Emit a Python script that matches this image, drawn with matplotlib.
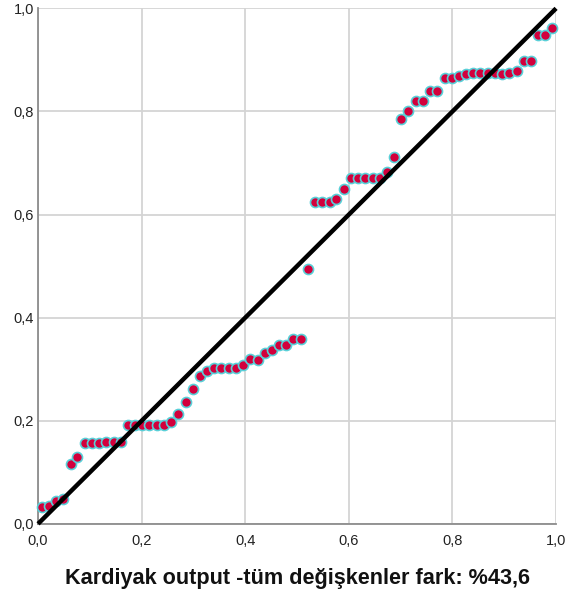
import matplotlib
matplotlib.use('Agg')
import matplotlib.pyplot as plt
import matplotlib.ticker as mticker

plt.rcParams['font.family'] = ['Liberation Sans', 'DejaVu Sans']

observed = [0.007, 0.021, 0.035, 0.049, 0.063, 0.076, 0.090, 0.104, 0.118, 0.132,
            0.146, 0.160, 0.174, 0.188, 0.201, 0.215, 0.229, 0.243, 0.257, 0.271,
            0.285, 0.299, 0.313, 0.326, 0.340, 0.354, 0.368, 0.382, 0.396, 0.410,
            0.424, 0.438, 0.451, 0.465, 0.479, 0.493, 0.507, 0.521, 0.535, 0.549,
            0.563, 0.576, 0.590, 0.604, 0.618, 0.632, 0.646, 0.660, 0.674, 0.688,
            0.701, 0.715, 0.729, 0.743, 0.757, 0.771, 0.785, 0.799, 0.813, 0.826,
            0.840, 0.854, 0.868, 0.882, 0.896, 0.910, 0.924, 0.938, 0.951, 0.965,
            0.979, 0.993]
expected = [0.032, 0.034, 0.045, 0.048, 0.116, 0.130, 0.156, 0.156, 0.156, 0.159,
            0.159, 0.159, 0.192, 0.192, 0.192, 0.192, 0.192, 0.192, 0.198, 0.214,
            0.237, 0.261, 0.287, 0.297, 0.303, 0.303, 0.303, 0.302, 0.309, 0.319,
            0.318, 0.331, 0.337, 0.347, 0.346, 0.359, 0.359, 0.494, 0.625, 0.625,
            0.625, 0.631, 0.649, 0.670, 0.670, 0.670, 0.670, 0.670, 0.682, 0.712,
            0.786, 0.801, 0.821, 0.821, 0.839, 0.839, 0.865, 0.865, 0.869, 0.872,
            0.875, 0.875, 0.875, 0.874, 0.873, 0.874, 0.878, 0.897, 0.897, 0.949,
            0.949, 0.962]
ref_line = [0.0, 1.0]
ticks = [0.0, 0.2, 0.4, 0.6, 0.8, 1.0]
title = 'Kardiyak output -tüm değişkenler fark: %43,6'

fig = plt.figure(figsize=(5.68, 5.98), dpi=100)
ax = fig.add_axes([0.067, 0.124, 0.912, 0.862])

ax.scatter(observed, expected, s=52, color='#D2003C', edgecolors='#58D0D8',
           linewidths=1.2, zorder=3, clip_on=False)
ax.plot(ref_line, ref_line, color='black', linewidth=3.2, zorder=4,
        solid_capstyle='butt', clip_on=False)

ax.set_xlim(0, 1)
ax.set_ylim(0, 1)
ax.set_xticks(ticks)
ax.set_yticks(ticks)
fmt = mticker.FuncFormatter(lambda v, p: ('%.1f' % v).replace('.', ','))
ax.xaxis.set_major_formatter(fmt)
ax.yaxis.set_major_formatter(fmt)
ax.tick_params(length=0, labelsize=10.5, colors='#222222')
ax.tick_params(axis='x', pad=7)
ax.tick_params(axis='y', pad=3)
ax.grid(True, color='#D4D4D4', linewidth=1.3)
ax.set_axisbelow(True)
for side in ['top', 'right']:
    ax.spines[side].set_visible(False)
for side in ['left', 'bottom']:
    ax.spines[side].set_color('#8C8C8C')
    ax.spines[side].set_linewidth(1.3)

fig.text(0.523, 0.033, title, ha='center', va='center', fontsize=15.6,
         fontweight='bold', color='#111111')

fig.savefig('out.png', dpi=100)
